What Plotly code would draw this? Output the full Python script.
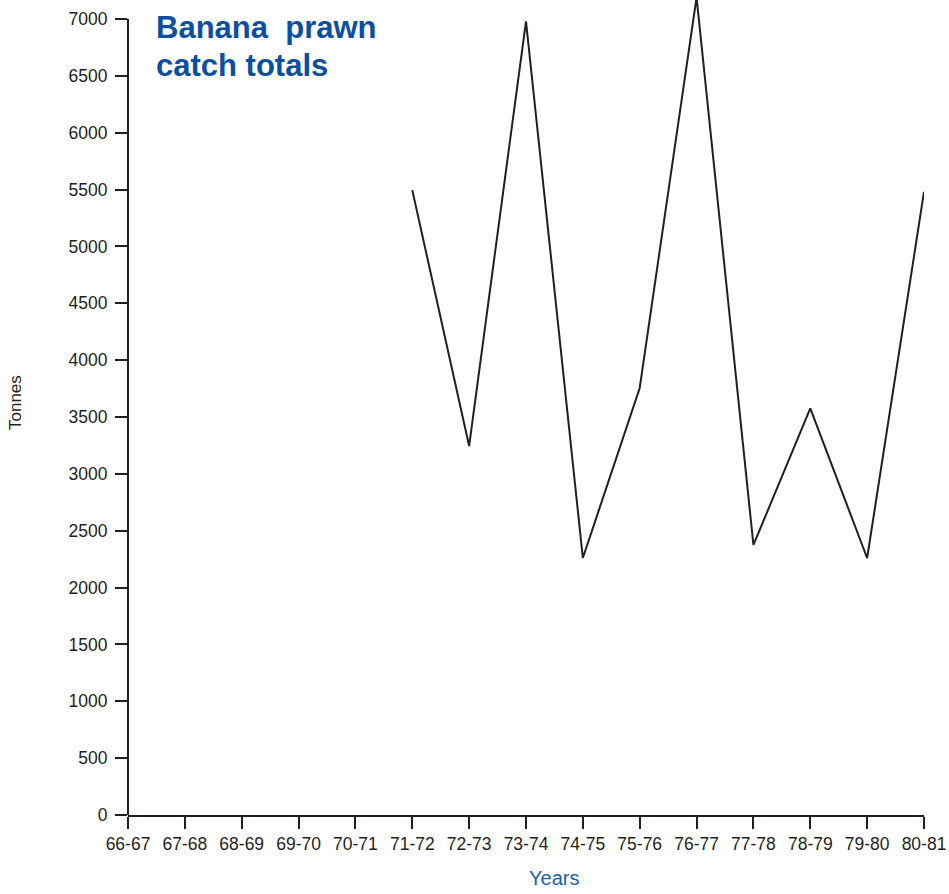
import plotly.graph_objects as go

# Season labels along the x axis
seasons = ["66-67", "67-68", "68-69", "69-70", "70-71", "71-72", "72-73",
           "73-74", "74-75", "75-76", "76-77", "77-78", "78-79", "79-80", "80-81"]

# Banana prawn catch (tonnes); no records before 71-72
catch_tonnes = [None, None, None, None, None, 5495, 3245, 6980, 2260,
                3755, 7190, 2375, 3575, 2260, 5480]

y_ticks = list(range(0, 7001, 500))

INK = "#231f20"
TITLE_BLUE = "#0b4fa2"
LABEL_BLUE = "#1b5fae"
FONT = "Liberation Sans, Arial, sans-serif"

fig = go.Figure()
fig.add_trace(go.Scatter(
    x=seasons,
    y=catch_tonnes,
    mode="lines",
    line=dict(color=INK, width=2),
    connectgaps=False,
    hoverinfo="x+y",
))

# plot area spans 0..7167 so the 7000 tick sits just below the top edge
y_top = 7000 * 815 / 796

fig.update_layout(
    width=949,
    height=894,
    margin=dict(l=128, r=25, t=0, b=79),
    paper_bgcolor="white",
    plot_bgcolor="white",
    showlegend=False,
    font=dict(family=FONT, color=INK, size=17),
    xaxis=dict(
        type="category",
        categoryorder="array",
        categoryarray=seasons,
        range=[0, len(seasons) - 1],
        showgrid=False,
        zeroline=False,
        showline=True,
        linecolor=INK,
        linewidth=2,
        ticks="outside",
        ticklen=12,
        tickwidth=1.6,
        tickcolor=INK,
        tickfont=dict(size=17.5, color=INK),
    ),
    yaxis=dict(
        range=[0, y_top],
        tickvals=y_ticks,
        ticktext=[str(v) for v in y_ticks],
        showgrid=False,
        zeroline=False,
        showline=False,
        ticks="outside",
        ticklen=12,
        tickwidth=1.6,
        tickcolor=INK,
        ticklabelstandoff=4,
        tickfont=dict(size=17.5, color=INK),
    ),
    shapes=[
        # vertical axis line stops at the 7000 tick
        dict(type="line", xref="paper", yref="y", x0=0, x1=0, y0=0, y1=7000,
             line=dict(color=INK, width=2)),
    ],
    annotations=[
        dict(text="<b>Banana\u00a0 prawn</b>", xref="paper", yref="paper",
             x=0, y=1, xanchor="left", yanchor="middle", xshift=26, yshift=-27,
             showarrow=False, font=dict(size=31, color=TITLE_BLUE, family=FONT)),
        dict(text="<b>catch totals</b>", xref="paper", yref="paper",
             x=0, y=1, xanchor="left", yanchor="middle", xshift=26, yshift=-65,
             showarrow=False, font=dict(size=31, color=TITLE_BLUE, family=FONT)),
        dict(text="Years", xref="paper", yref="paper",
             x=(554 - 128) / 796, y=0, xanchor="center", yanchor="middle",
             yshift=-63, showarrow=False,
             font=dict(size=20, color=LABEL_BLUE, family=FONT)),
        dict(text="Tonnes", xref="paper", yref="paper",
             x=0, y=(815 - 403) / 815, xanchor="center", yanchor="middle",
             xshift=-113, textangle=-90, showarrow=False,
             font=dict(size=17, color=INK, family=FONT)),
    ],
)

fig.write_html("out.html")
